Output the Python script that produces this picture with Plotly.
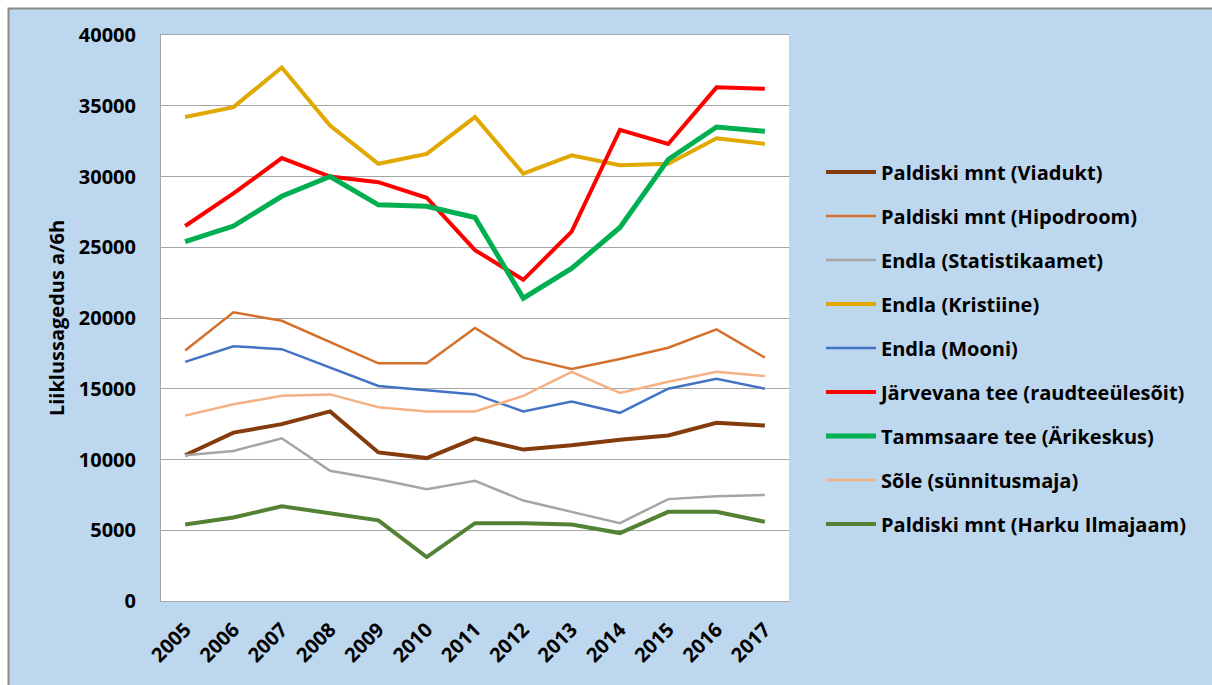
import plotly.graph_objects as go

# Traffic counts (vehicles per 6 h) at Tallinn counting points, 2005-2017
years = [str(y) for y in range(2005, 2018)]

viadukt      = [10300, 11900, 12500, 13400, 10500, 10100, 11500, 10700, 11000, 11400, 11700, 12600, 12400]
hipodroom    = [17700, 20400, 19800, 18300, 16800, 16800, 19300, 17200, 16400, 17100, 17900, 19200, 17200]
statistika   = [10300, 10600, 11500, 9200, 8600, 7900, 8500, 7100, 6300, 5500, 7200, 7400, 7500]
kristiine    = [34200, 34900, 37700, 33600, 30900, 31600, 34200, 30200, 31500, 30800, 30900, 32700, 32300]
mooni        = [16900, 18000, 17800, 16500, 15200, 14900, 14600, 13400, 14100, 13300, 15000, 15700, 15000]
jarvevana    = [26500, 28800, 31300, 30000, 29600, 28500, 24800, 22700, 26100, 33300, 32300, 36300, 36200]
tammsaare    = [25400, 26500, 28600, 30000, 28000, 27900, 27100, 21400, 23500, 26400, 31200, 33500, 33200]
sole         = [13100, 13900, 14500, 14600, 13700, 13400, 13400, 14500, 16200, 14700, 15500, 16200, 15900]
harku        = [5400, 5900, 6700, 6200, 5700, 3100, 5500, 5500, 5400, 4800, 6300, 6300, 5600]

series = [
    ("Paldiski mnt (Viadukt)", viadukt, "#843C0C", 4),
    ("Paldiski mnt (Hipodroom)", hipodroom, "#D4702C", 2.5),
    ("Endla (Statistikaamet)", statistika, "#A5A5A5", 2.5),
    ("Endla (Kristiine)", kristiine, "#E0A800", 4),
    ("Endla (Mooni)", mooni, "#4472C4", 2.5),
    ("Järvevana tee (raudteeülesõit)", jarvevana, "#FF0000", 4),
    ("Tammsaare tee (Ärikeskus)", tammsaare, "#00B050", 5),
    ("Sõle (sünnitusmaja)", sole, "#F4B183", 2.5),
    ("Paldiski mnt (Harku Ilmajaam)", harku, "#548235", 4),
]

FONT = "Open Sans"
GRID = "#A6A6A6"

fig = go.Figure()
for i, (name, vals, color, width) in enumerate(series):
    fig.add_trace(go.Scatter(
        x=years, y=vals, name=name, mode="lines",
        legendgroup=f"g{i}",
        line=dict(color=color, width=width),
    ))

# margins chosen so the plot area spans x 161..789, y 35..601
L, R, T, B = 161, 423, 35, 84
W, H = 1212, 685
pw, ph = W - L - R, H - T - B


def px(x):
    return (x - L) / pw


def py(y):
    return (H - B - y) / ph


fig.update_layout(
    width=W, height=H,
    margin=dict(l=L, r=R, t=T, b=B, autoexpand=False),
    paper_bgcolor="white",
    plot_bgcolor="white",
    font=dict(family=FONT, size=20, color="black", weight="bold"),
    showlegend=True,
    legend=dict(
        x=px(821), xanchor="left",
        y=py(348), yanchor="middle",
        bgcolor="rgba(0,0,0,0)",
        font=dict(family=FONT, size=20, color="black", weight="bold"),
        tracegroupgap=15,
        itemwidth=50,
    ),
    shapes=[
        # outer chart frame with light-blue fill
        dict(type="rect", xref="paper", yref="paper",
             x0=px(8.5), x1=px(1240), y0=py(700), y1=py(8.5),
             fillcolor="#BDD7EE", line=dict(color="#8C8C8C", width=2),
             layer="below"),
        # white plotting area
        dict(type="rect", xref="paper", yref="paper",
             x0=0, x1=1, y0=0, y1=1,
             fillcolor="white", line=dict(width=0),
             layer="below"),
    ],
)

fig.update_xaxes(
    type="category",
    range=[-0.5, len(years) - 0.5],
    tickangle=-45,
    ticks="",
    showgrid=False,
    showline=True, linecolor=GRID, linewidth=1, mirror=True,
    tickfont=dict(family=FONT, size=20, color="black", weight="bold"),
    ticklabelstandoff=8,
)

fig.update_yaxes(
    range=[0, 40000],
    tickvals=list(range(0, 40001, 5000)),
    ticktext=[str(v) for v in range(0, 40001, 5000)],
    ticks="",
    showgrid=True, gridcolor=GRID, gridwidth=1,
    zeroline=False,
    showline=True, linecolor=GRID, linewidth=1,
    tickfont=dict(family=FONT, size=20, color="black", weight="bold"),
    ticklabelstandoff=20,
    title=dict(text="Liiklussagedus a/6h",
               font=dict(family=FONT, size=20, color="black", weight="bold"),
               standoff=8),
)

fig.write_html("out.html")
